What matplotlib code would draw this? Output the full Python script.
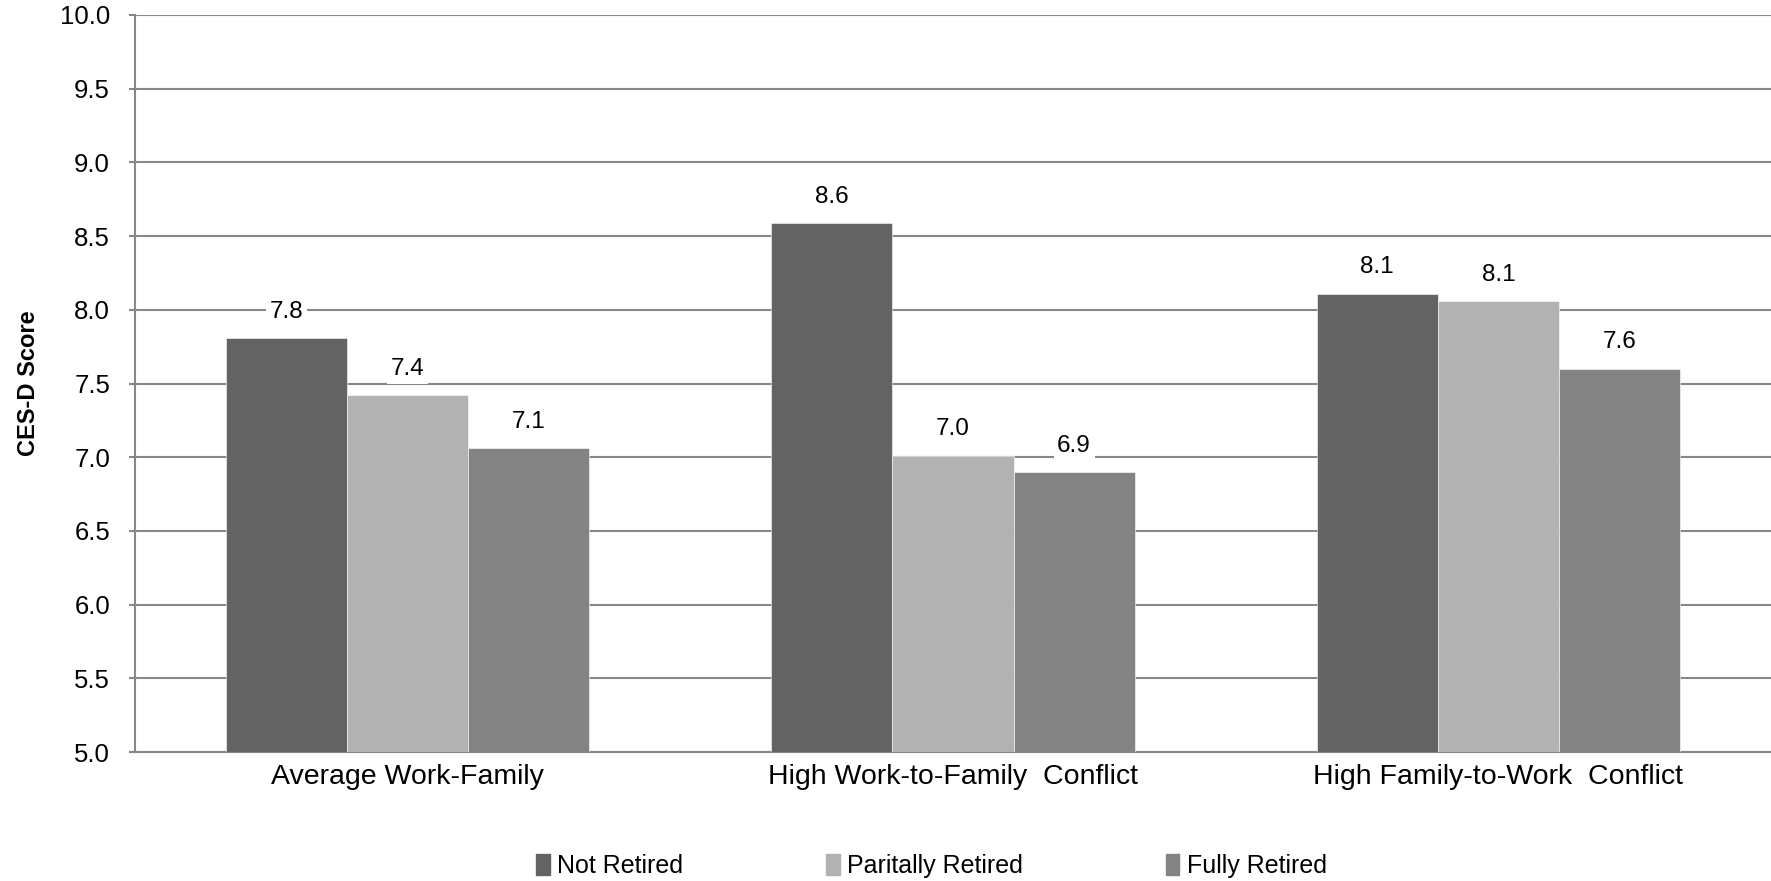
import numpy as np
import matplotlib.pyplot as plt
from matplotlib.patches import Patch

# Data
categories = ['Average Work-Family', 'High Work-to-Family  Conflict', 'High Family-to-Work  Conflict']
series = ['Not Retired', 'Paritally Retired', 'Fully Retired']
not_retired = [7.81, 8.59, 8.11]
partially_retired = [7.42, 7.01, 8.06]
fully_retired = [7.06, 6.90, 7.60]
colors = ['#636363', '#b2b2b2', '#838383']

plt.rcParams['font.family'] = ['Liberation Sans', 'DejaVu Sans']

fig = plt.figure(figsize=(17.71, 8.81), dpi=100)
ax = fig.add_axes([135 / 1771, 1 - 752 / 881, 1 - 135 / 1771, (752 - 15) / 881])

x = np.arange(len(categories))
width = 0.222
values = [not_retired, partially_retired, fully_retired]
for i, (vals, col) in enumerate(zip(values, colors)):
    bars = ax.bar(x + (i - 1) * width, [v - 5 for v in vals], width, bottom=5,
                  color=col, edgecolor='white', linewidth=0.4, zorder=3)
    for b, v in zip(bars, vals):
        ax.annotate(f'{v:.1f}', (b.get_x() + b.get_width() / 2, v),
                    xytext=(0, 11), textcoords='offset points',
                    ha='center', va='bottom', fontsize=17.5, zorder=4,
                    bbox=dict(boxstyle='square,pad=0.15', fc='white', ec='none'))

ax.set_ylim(5, 10)
ax.set_xlim(-0.5, 2.5)
ticks = np.arange(5, 10.01, 0.5)
ax.set_yticks(ticks)
ax.set_yticklabels([f'{t:.1f}' for t in ticks], fontsize=18.5)
ax.set_xticks(x)
ax.set_xticklabels(categories, fontsize=20.5)
ax.tick_params(axis='x', length=0, pad=9)
ax.tick_params(axis='y', length=4, width=1.5, color='#878787', pad=14)
ax.grid(axis='y', color='#878787', linewidth=1.5, zorder=0)
ax.set_axisbelow(True)
for s in ['top', 'right']:
    ax.spines[s].set_visible(False)
for s in ['left', 'bottom']:
    ax.spines[s].set_color('#878787')
    ax.spines[s].set_linewidth(1.5)

ax.set_ylabel('CES-D Score', fontsize=17, fontweight='bold')
ax.yaxis.set_label_coords(-0.058, 0.5)

handles = [Patch(color=c, label=s) for c, s in zip(colors, series)]
fig.legend(handles=handles, loc='center', bbox_to_anchor=(0.526, 1 - 866 / 881),
           ncol=3, frameon=False, handlelength=0.55, handleheight=0.9,
           handletextpad=0.3, columnspacing=5.7,
           prop={'size': 18})

fig.savefig('out.png', dpi=100)
